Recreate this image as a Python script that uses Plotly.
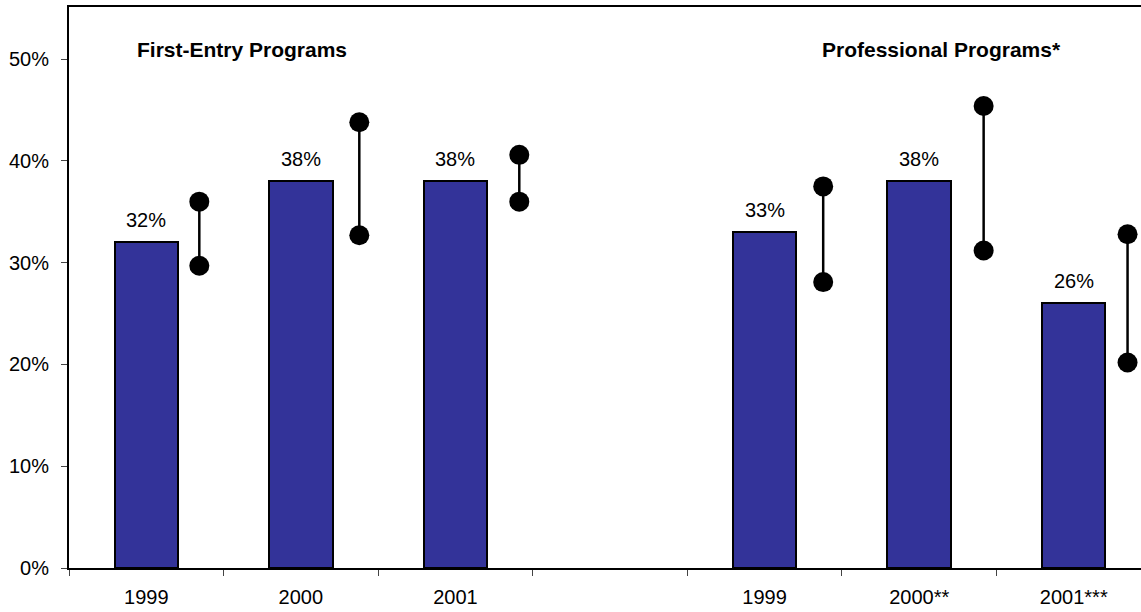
import plotly.graph_objects as go

# ---------------- data ----------------
fe_years = ["1999", "2000", "2001"]
fe_values = [32, 38, 38]
fe_high = [36.0, 43.8, 40.6]
fe_low = [29.7, 32.7, 36.0]

pro_years = ["1999", "2000**", "2001***"]
pro_values = [33, 38, 26]
pro_high = [37.5, 45.4, 32.8]
pro_low = [28.1, 31.2, 20.2]

group_titles = ["First-Entry Programs", "Professional Programs*"]
y_ticks = [0, 10, 20, 30, 40, 50]

# ---------------- layout helpers ----------------
fe_slots = [0, 1, 2]
pro_slots = [4, 5, 6]
fe_dot_offset = [0.343, 0.378, 0.413]
pro_dot_offset = [0.379, 0.417, 0.348]

slots = fe_slots + pro_slots
labels = fe_years + pro_years
values = fe_values + pro_values
highs = fe_high + pro_high
lows = fe_low + pro_low
dot_x = [s + o for s, o in zip(slots, fe_dot_offset + pro_dot_offset)]

FONT = "Liberation Sans, Arial, sans-serif"
BAR_COLOR = "#333399"

fig = go.Figure()

fig.add_trace(go.Bar(
    x=slots, y=values, width=0.41,
    marker=dict(color=BAR_COLOR, line=dict(color="black", width=2)),
    hoverinfo="skip", showlegend=False,
))

lx, ly = [], []
for x, lo, hi in zip(dot_x, lows, highs):
    lx += [x, x, None]
    ly += [lo, hi, None]
fig.add_trace(go.Scatter(
    x=lx, y=ly, mode="lines+markers",
    line=dict(color="black", width=2.5),
    marker=dict(color="black", size=20),
    hoverinfo="skip", showlegend=False,
))

for s, v in zip(slots, values):
    fig.add_annotation(x=s, y=v, text=f"{v}%", showarrow=False,
                       yanchor="bottom", yshift=9,
                       font=dict(family=FONT, size=20, color="black"))

title_x = [-0.073, 4.358]
for tx, t in zip(title_x, group_titles):
    fig.add_annotation(x=tx, y=51.0, text=f"<b>{t}</b>", showarrow=False,
                       xanchor="left", yanchor="middle",
                       font=dict(family=FONT, size=21, color="black"))

fig.update_layout(
    width=1141, height=612,
    margin=dict(l=69, r=0, t=7, b=44, autoexpand=False),
    paper_bgcolor="white", plot_bgcolor="white",
    font=dict(family=FONT, size=20, color="black"),
    bargap=0,
)

fig.update_xaxes(
    range=[-0.5, 6.435],
    tickmode="array", tickvals=slots, ticktext=labels,
    ticks="", showgrid=False, zeroline=False, automargin=False,
    showline=True, linecolor="black", linewidth=2, mirror=True,
    minor=dict(tickmode="array", tickvals=[-0.5, 0.5, 1.5, 2.5, 3.5, 4.5, 5.5],
               ticks="outside", ticklen=6, tickwidth=1, tickcolor="#444", showgrid=False),
    ticklabelstandoff=10,
    tickfont=dict(family=FONT, size=20, color="black"),
)

fig.update_yaxes(
    range=[0, 55.13], automargin=False,
    tickmode="array", tickvals=y_ticks, ticktext=[f"{v}%" for v in y_ticks],
    ticks="outside", ticklen=6, tickwidth=1, tickcolor="#444",
    showgrid=False, zeroline=False,
    showline=True, linecolor="black", linewidth=2,
    ticklabelstandoff=8,
    tickfont=dict(family=FONT, size=20, color="black"),
)

fig.write_html("out.html", config={"displayModeBar": False},
               post_script="document.body.style.margin='0';")
